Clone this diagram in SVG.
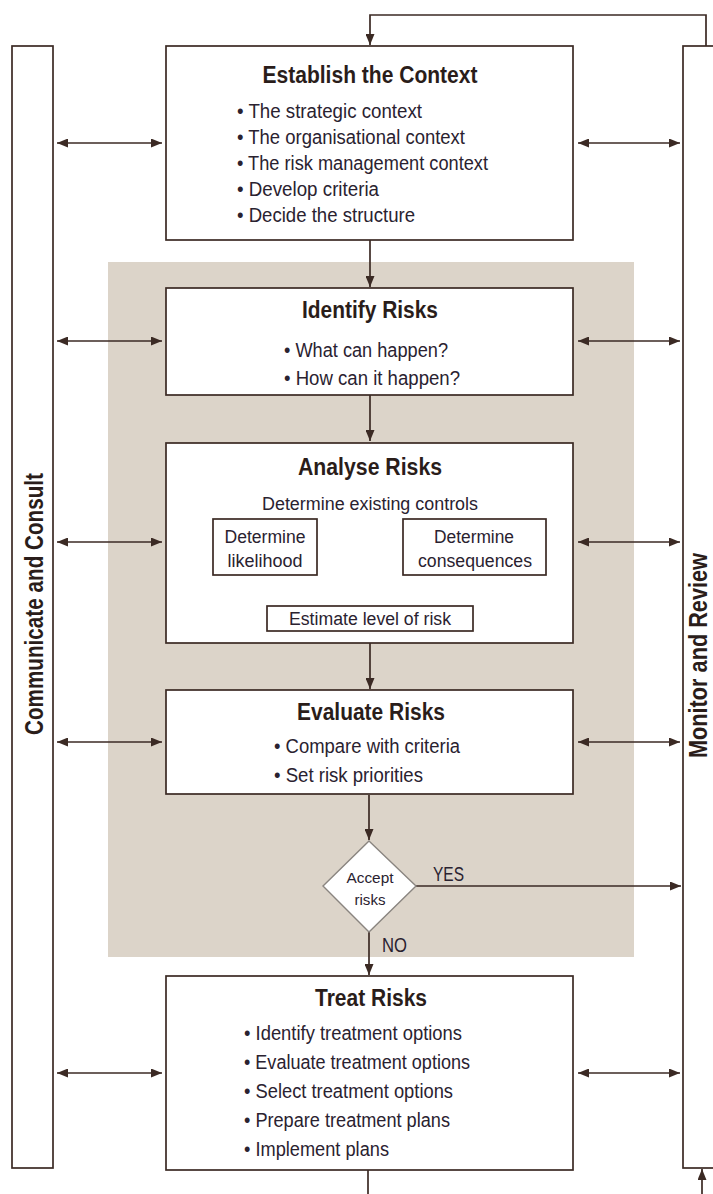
<svg xmlns="http://www.w3.org/2000/svg" width="713" height="1194" viewBox="0 0 713 1194">
<style>
.box{fill:#fff;stroke:#3b2a24;stroke-width:1.7}
.ln{fill:none;stroke:#3b2a24;stroke-width:1.7}
.t{font-family:"Liberation Sans",Arial,sans-serif;font-weight:bold;font-size:23px;fill:#2a1d1a;text-anchor:middle}
.b{font-family:"Liberation Sans",Arial,sans-serif;font-size:19.5px;fill:#2a2230}
.c{font-family:"Liberation Sans",Arial,sans-serif;font-size:18px;fill:#2a2230;text-anchor:middle}
.s{font-family:"Liberation Sans",Arial,sans-serif;font-size:14px;fill:#2a2230;text-anchor:middle}
.v{font-family:"Liberation Sans",Arial,sans-serif;font-weight:bold;font-size:25px;fill:#2a1d1a}
</style>
<defs>
<marker id="ah" markerUnits="userSpaceOnUse" markerWidth="11" markerHeight="9" refX="11" refY="4.5" orient="auto-start-reverse">
<path d="M0,0 L11,4.5 L0,9 z" fill="#3b2a24"/>
</marker>
</defs>
<rect id="shade" x="108" y="262" width="526" height="695" fill="#dcd4c9"/>

<g id="communicate">
<rect class="box" x="12" y="46" width="41" height="1122"/>
<text class="v" transform="translate(43,735) rotate(-90)" textLength="262" lengthAdjust="spacingAndGlyphs">Communicate and Consult</text>
</g>
<g id="monitor">
<rect class="box" x="683" y="46" width="60" height="1122"/>
<text class="v" transform="translate(707,758) rotate(-90)" textLength="205" lengthAdjust="spacingAndGlyphs">Monitor and Review</text>
</g>

<g id="connectors">
<polyline class="ln" points="706,46 706,15 370,15 370,45" marker-end="url(#ah)"/>
<line class="ln" x1="370" y1="240" x2="370" y2="287" marker-end="url(#ah)"/>
<line class="ln" x1="370" y1="395" x2="370" y2="441" marker-end="url(#ah)"/>
<line class="ln" x1="370" y1="643" x2="370" y2="689" marker-end="url(#ah)"/>
<line class="ln" x1="369" y1="795" x2="369" y2="840" marker-end="url(#ah)"/>
<line class="ln" x1="369" y1="932" x2="369" y2="975" marker-end="url(#ah)"/>
<line class="ln" x1="416" y1="886" x2="681" y2="886" marker-end="url(#ah)"/>
<line class="ln" x1="368" y1="1170" x2="368" y2="1194"/>
<line class="ln" x1="702" y1="1194" x2="702" y2="1169" marker-end="url(#ah)"/>
<line class="ln" x1="265" y1="576" x2="265" y2="604" marker-end="url(#ah)"/>
<line class="ln" x1="476" y1="576" x2="476" y2="604" marker-end="url(#ah)"/>
<line class="ln" x1="57" y1="143" x2="162" y2="143" marker-start="url(#ah)" marker-end="url(#ah)"/>
<line class="ln" x1="578" y1="143" x2="680" y2="143" marker-start="url(#ah)" marker-end="url(#ah)"/>
<line class="ln" x1="57" y1="341" x2="162" y2="341" marker-start="url(#ah)" marker-end="url(#ah)"/>
<line class="ln" x1="578" y1="341" x2="680" y2="341" marker-start="url(#ah)" marker-end="url(#ah)"/>
<line class="ln" x1="57" y1="542" x2="162" y2="542" marker-start="url(#ah)" marker-end="url(#ah)"/>
<line class="ln" x1="578" y1="542" x2="680" y2="542" marker-start="url(#ah)" marker-end="url(#ah)"/>
<line class="ln" x1="57" y1="742" x2="162" y2="742" marker-start="url(#ah)" marker-end="url(#ah)"/>
<line class="ln" x1="578" y1="742" x2="680" y2="742" marker-start="url(#ah)" marker-end="url(#ah)"/>
<line class="ln" x1="57" y1="1073" x2="162" y2="1073" marker-start="url(#ah)" marker-end="url(#ah)"/>
<line class="ln" x1="578" y1="1073" x2="680" y2="1073" marker-start="url(#ah)" marker-end="url(#ah)"/>
<text class="b" x="433" y="881" textLength="31" lengthAdjust="spacingAndGlyphs">YES</text>
<text class="b" x="382" y="952" textLength="25" lengthAdjust="spacingAndGlyphs">NO</text>
</g>

<g id="establish">
<rect class="box" x="166" y="46" width="407" height="194"/>
<text class="t" x="370" y="83" textLength="215" lengthAdjust="spacingAndGlyphs">Establish the Context</text>
<text class="b" x="237" y="118" textLength="185" lengthAdjust="spacingAndGlyphs">• The strategic context</text>
<text class="b" x="237" y="144" textLength="228" lengthAdjust="spacingAndGlyphs">• The organisational context</text>
<text class="b" x="237" y="170" textLength="251" lengthAdjust="spacingAndGlyphs">• The risk management context</text>
<text class="b" x="237" y="196" textLength="142" lengthAdjust="spacingAndGlyphs">• Develop criteria</text>
<text class="b" x="237" y="222" textLength="178" lengthAdjust="spacingAndGlyphs">• Decide the structure</text>
</g>

<g id="identify">
<rect class="box" x="166" y="288" width="407" height="107"/>
<text class="t" x="370" y="318" textLength="136" lengthAdjust="spacingAndGlyphs">Identify Risks</text>
<text class="b" x="284" y="357" textLength="164" lengthAdjust="spacingAndGlyphs">• What can happen?</text>
<text class="b" x="284" y="385" textLength="176" lengthAdjust="spacingAndGlyphs">• How can it happen?</text>
</g>

<g id="analyse">
<rect class="box" x="166" y="443" width="407" height="200"/>
<text class="t" x="370" y="475" textLength="144" lengthAdjust="spacingAndGlyphs">Analyse Risks</text>
<text class="c" x="370" y="510" textLength="216" lengthAdjust="spacingAndGlyphs">Determine existing controls</text>
<g id="likelihood">
<rect class="box" x="213" y="519" width="104" height="56"/>
<text class="c" x="265" y="543" textLength="81" lengthAdjust="spacingAndGlyphs">Determine</text>
<text class="c" x="265" y="567" textLength="75" lengthAdjust="spacingAndGlyphs">likelihood</text>
</g>
<g id="consequences">
<rect class="box" x="403" y="519" width="143" height="56"/>
<text class="c" x="474" y="543" textLength="80" lengthAdjust="spacingAndGlyphs">Determine</text>
<text class="c" x="475" y="567" textLength="114" lengthAdjust="spacingAndGlyphs">consequences</text>
</g>
<g id="estimate">
<rect class="box" x="267" y="606" width="206" height="25"/>
<text class="c" x="370" y="625" textLength="162" lengthAdjust="spacingAndGlyphs">Estimate level of risk</text>
</g>
</g>

<g id="evaluate">
<rect class="box" x="166" y="690" width="407" height="104"/>
<text class="t" x="371" y="720" textLength="148" lengthAdjust="spacingAndGlyphs">Evaluate Risks</text>
<text class="b" x="274" y="753" textLength="186" lengthAdjust="spacingAndGlyphs">• Compare with criteria</text>
<text class="b" x="274" y="782" textLength="149" lengthAdjust="spacingAndGlyphs">• Set risk priorities</text>
</g>

<g id="accept">
<polygon points="369,841 416,886 369,932 323,886" fill="#fff" stroke="#8a8580" stroke-width="1.4"/>
<text class="s" x="370" y="883" textLength="47" lengthAdjust="spacingAndGlyphs">Accept</text>
<text class="s" x="370" y="905" textLength="31" lengthAdjust="spacingAndGlyphs">risks</text>
</g>

<g id="treat">
<rect class="box" x="166" y="976" width="407" height="194"/>
<text class="t" x="371" y="1006" textLength="112" lengthAdjust="spacingAndGlyphs">Treat Risks</text>
<text class="b" x="244" y="1040" textLength="218" lengthAdjust="spacingAndGlyphs">• Identify treatment options</text>
<text class="b" x="244" y="1069" textLength="226" lengthAdjust="spacingAndGlyphs">• Evaluate treatment options</text>
<text class="b" x="244" y="1098" textLength="209" lengthAdjust="spacingAndGlyphs">• Select treatment options</text>
<text class="b" x="244" y="1127" textLength="206" lengthAdjust="spacingAndGlyphs">• Prepare treatment plans</text>
<text class="b" x="244" y="1156" textLength="145" lengthAdjust="spacingAndGlyphs">• Implement plans</text>
</g>
</svg>
